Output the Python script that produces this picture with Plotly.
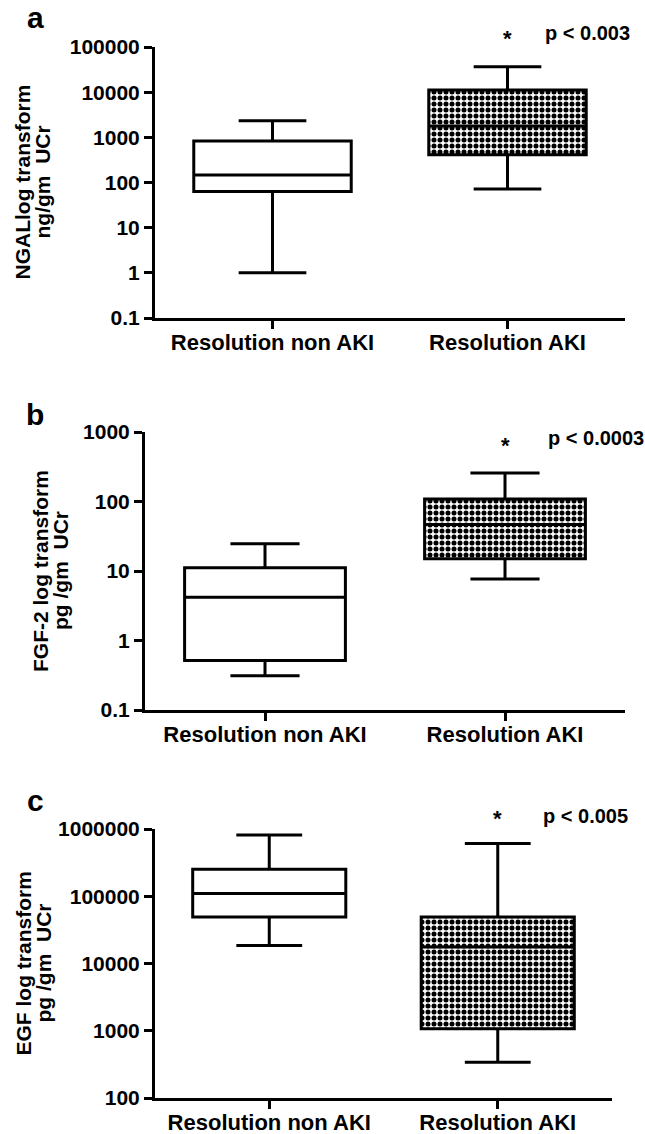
import plotly.graph_objects as go

categories = ["Resolution non AKI", "Resolution AKI"]
cat_pos = [0, 1]

# NGAL (ng/gm UCr)
ngal_low = [1.0, 72]
ngal_q1 = [63, 410]
ngal_med = [147, 1780]
ngal_q3 = [830, 11200]
ngal_high = [2340, 36500]

# FGF-2 (pg/gm UCr)
fgf_low = [0.31, 7.7]
fgf_q1 = [0.515, 15]
fgf_med = [4.2, 46.6]
fgf_q3 = [11.1, 109]
fgf_high = [24.6, 257]

# EGF (pg/gm UCr)
egf_low = [18600, 339]
egf_q1 = [49000, 1070]
egf_med = [110000, 17600]
egf_q3 = [251000, 49200]
egf_high = [811000, 610000]

ngal_ticks = [0.1, 1, 10, 100, 1000, 10000, 100000]
ngal_ticktext = ["0.1", "1", "10", "100", "1000", "10000", "100000"]
fgf_ticks = [0.1, 1, 10, 100, 1000]
fgf_ticktext = ["0.1", "1", "10", "100", "1000"]
egf_ticks = [100, 1000, 10000, 100000, 1000000]
egf_ticktext = ["100", "1000", "10000", "100000", "1000000"]

title_line1 = ["NGALlog transform", "FGF-2 log transform", "EGF log transform"]
title_line2 = ["ng/gm\u00a0\u00a0UCr", "pg /gm\u00a0\u00a0UCr", "pg /gm\u00a0\u00a0UCr"]
pvals = ["p < 0.003", "p < 0.0003", "p < 0.005"]
panel_letters = ["a", "b", "c"]

FONT = "Liberation Sans, Arial, Helvetica, sans-serif"
W, H = 645, 1134
BOXW = 0.67

panels = [
    dict(low=ngal_low, q1=ngal_q1, med=ngal_med, q3=ngal_q3, high=ngal_high,
         ticks=ngal_ticks, ticktext=ngal_ticktext, rng=[-1, 5],
         xpx=(155, 625), ypx=(47, 318), t1x=22, t2x=42,
         star_y=1.03, p_y=1.052, p_x=1.15, letter_y=18),
    dict(low=fgf_low, q1=fgf_q1, med=fgf_med, q3=fgf_q3, high=fgf_high,
         ticks=fgf_ticks, ticktext=fgf_ticktext, rng=[-1, 3],
         xpx=(145, 625), ypx=(432, 710), t1x=40, t2x=60,
         star_y=0.95, p_y=0.978, p_x=1.17, letter_y=414),
    dict(low=egf_low, q1=egf_q1, med=egf_med, q3=egf_q3, high=egf_high,
         ticks=egf_ticks, ticktext=egf_ticktext, rng=[2, 6],
         xpx=(155, 612), ypx=(829, 1098), t1x=23, t2x=43,
         star_y=1.04, p_y=1.05, p_x=1.19, letter_y=800),
]

fig = go.Figure()
annotations = []
layout = dict(width=W, height=H, margin=dict(l=0, r=0, t=0, b=0, autoexpand=False),
              paper_bgcolor="white", plot_bgcolor="white", showlegend=False,
              font=dict(family=FONT, color="black", size=20, weight="bold"))

for i, p in enumerate(panels):
    n = "" if i == 0 else str(i + 1)
    xa, ya = "x" + n, "y" + n
    # patterned (checkered) fill for the AKI box
    fig.add_trace(go.Bar(
        x=[cat_pos[1]], y=[p["q3"][1] - p["q1"][1]], base=[p["q1"][1]],
        width=BOXW, xaxis=xa, yaxis=ya, hoverinfo="skip",
        marker=dict(color="white", line=dict(width=0),
                    pattern=dict(shape=".", fgcolor="black", bgcolor="white",
                                 size=6, solidity=0.55, fillmode="replace"))))
    for j in range(2):
        fig.add_trace(go.Box(
            x=[cat_pos[j]], q1=[p["q1"][j]], median=[p["med"][j]],
            q3=[p["q3"][j]], lowerfence=[p["low"][j]], upperfence=[p["high"][j]],
            width=BOXW, whiskerwidth=0.43, boxpoints=False,
            fillcolor="rgba(255,255,255,0)" if j == 1 else "white",
            line=dict(color="black", width=3),
            xaxis=xa, yaxis=ya, name=categories[j]))
    x0, x1 = p["xpx"]
    y0, y1 = p["ypx"]
    layout["xaxis" + n] = dict(
        domain=[x0 / W, x1 / W], anchor=ya, range=[-0.5, 1.5], automargin=False,
        tickvals=cat_pos, ticktext=categories, showline=True, linewidth=3,
        linecolor="black", ticks="outside", ticklen=8, tickwidth=3,
        tickcolor="black", showgrid=False, zeroline=False, ticklabelstandoff=-5,
        tickfont=dict(size=22, weight="bold", family=FONT))
    layout["yaxis" + n] = dict(
        domain=[1 - y1 / H, 1 - y0 / H], anchor=xa, type="log", range=p["rng"],
        automargin=False,
        tickvals=p["ticks"], ticktext=p["ticktext"], showline=True, linewidth=3,
        linecolor="black", ticks="outside", ticklen=8, tickwidth=3,
        tickcolor="black", showgrid=False, zeroline=False,
        tickfont=dict(size=21, weight="bold", family=FONT))
    for txt, tx in ((title_line1[i], p["t1x"]), (title_line2[i], p["t2x"])):
        annotations.append(dict(text=txt, x=tx / W, y=0.5, xref="paper",
                                yref=ya + " domain", textangle=-90,
                                showarrow=False, xanchor="center",
                                yanchor="middle",
                                font=dict(size=21, weight="bold", family=FONT)))
    annotations.append(dict(text="*", x=1, y=p["star_y"], xref=xa,
                            yref=ya + " domain", showarrow=False,
                            font=dict(size=22, weight="bold", family=FONT),
                            xanchor="center", yanchor="middle"))
    annotations.append(dict(text=pvals[i], x=p["p_x"], y=p["p_y"], xref=xa,
                            yref=ya + " domain", showarrow=False,
                            font=dict(size=20, weight="bold", family=FONT),
                            xanchor="left", yanchor="middle"))
    annotations.append(dict(text=panel_letters[i], x=35 / W,
                            y=1 - p["letter_y"] / H, xref="paper", yref="paper",
                            showarrow=False, xanchor="center", yanchor="middle",
                            font=dict(size=30, weight="bold", family=FONT)))

layout["annotations"] = annotations
layout["barmode"] = "overlay"
fig.update_layout(**layout)
fig.write_html("out.html", config={"displayModeBar": False},
               post_script="document.body.style.margin='0';"
                           "document.body.style.overflow='hidden';")
